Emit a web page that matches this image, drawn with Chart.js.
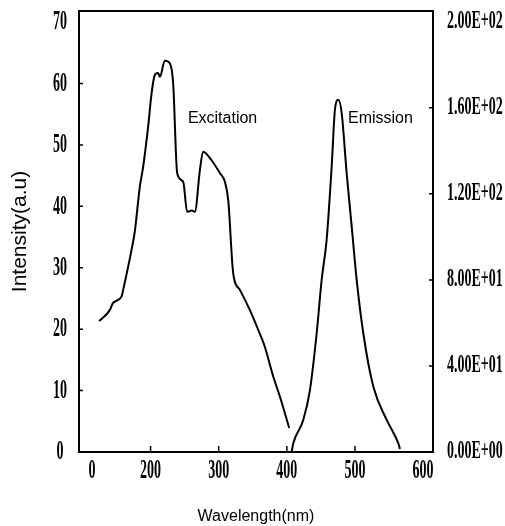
<!DOCTYPE html>
<html>
<head>
<meta charset="utf-8">
<script src="https://cdn.jsdelivr.net/npm/chart.js@4"></script>
<style>
html,body{margin:0;padding:0;background:#fff;}
#wrap{width:505px;height:526px;position:relative;}
</style>
</head>
<body>
<div id="wrap"><canvas id="c" width="505" height="526"></canvas></div>
<script>
// ---- data ----
const excitationWavelength = [124.5,140.2,145.1,157.4,159.8,172.1,176.9,184.3,189.1,196.5,201.5,206.3,211.2,213.7,221,228.3,233.2,239.1,247.9,253.7,260.2,265.1,272.4,277.2,289.6,301.8,309.1,314,321.3,331.1,345.8,358,367.8,380,389.9,403.5];
const excitationIntensity  = [21.3,23.1,24.3,25.3,26.4,32.9,35.9,43.2,46.4,53.0,58.4,61.4,61.7,61.1,63.7,63.3,60.0,45.4,44.0,39.1,39.3,39.1,45.9,48.9,47.5,45.4,44.0,41.0,29.1,26.4,23.1,19.9,17.1,12.3,9.0,3.9];
const emissionWavelength = [407,409.4,424.1,433.9,443.8,451.1,458.4,465.8,470.6,475.5,480.5,487.8,495.2,502.5,512.2,526.9,546.6,563.6,566];
const emissionIntensity  = [0,4.0,14.9,28.8,55.2,80,98.6,132.7,159.1,163.7,157.5,129.6,104.8,80,55.2,30.4,14.9,4.0,1.4];

const xTickValues = [114,200,300,400,500,600];
const xTickLabels = ['0','200','300','400','500','600'];
const xInnerTicks = [200,300,400,500];
const yTickValues = [0,10,20,30,40,50,60,70];
const yTickLabels = ['0','10','20','30','40','50','60','70'];
const y2TickValues = [0,40,80,120,160,200];
const y2TickLabels = ['0.00E+00','4.00E+01','8.00E+01','1.20E+02','1.60E+02','2.00E+02'];

const annotationTexts = ['Excitation','Emission'];
const annotationX = [254.8,489.7];
const annotationY = [53.6,53.6];

const excitationPoints = excitationWavelength.map((w,i)=>({x:w,y:excitationIntensity[i]}));
const emissionPoints = emissionWavelength.map((w,i)=>({x:w,y:emissionIntensity[i]}));

function drawScaled(ctx, text, cx, cy, sx){
  ctx.save();
  ctx.translate(cx, cy);
  ctx.scale(sx, 1);
  ctx.fillText(text, 0, 0);
  ctx.restore();
}

const customAxes = {
  id: 'customAxes',
  afterDraw(chart){
    const ctx = chart.ctx;
    const xs = chart.scales.x, ys = chart.scales.y, y2s = chart.scales.y2;
    const a = chart.chartArea;
    ctx.save();
    ctx.strokeStyle = '#000';
    ctx.lineWidth = 2;
    // top border
    ctx.beginPath();
    ctx.moveTo(a.left, a.top);
    ctx.lineTo(a.right, a.top);
    ctx.stroke();
    // inward tick marks
    ctx.lineWidth = 1.5;
    ctx.beginPath();
    yTickValues.slice(1, -1).forEach(v => {
      const p = ys.getPixelForValue(v);
      ctx.moveTo(a.left, p); ctx.lineTo(a.left + 4, p);
    });
    y2TickValues.slice(1, -1).forEach(v => {
      const p = y2s.getPixelForValue(v);
      ctx.moveTo(a.right, p); ctx.lineTo(a.right - 4, p);
    });
    xInnerTicks.forEach(v => {
      const p = xs.getPixelForValue(v);
      ctx.moveTo(p, a.bottom); ctx.lineTo(p, a.bottom - 6);
    });
    ctx.stroke();

    // tick labels (condensed bold serif)
    ctx.fillStyle = '#000';
    ctx.textBaseline = 'middle';
    ctx.textAlign = 'center';
    ctx.font = 'bold 28px "Liberation Serif"';
    yTickValues.forEach((v,i) => {
      drawScaled(ctx, yTickLabels[i], a.left - 19, ys.getPixelForValue(v), 0.5);
    });
    xTickValues.forEach((v,i) => {
      drawScaled(ctx, xTickLabels[i], xs.getPixelForValue(v), a.bottom + 19, 0.5);
    });
    ctx.textAlign = 'left';
    ctx.font = 'bold 25px "Liberation Serif"';
    y2TickValues.forEach((v,i) => {
      drawScaled(ctx, y2TickLabels[i], a.right + 14, y2s.getPixelForValue(v), 0.56);
    });

    // curve labels
    ctx.textBaseline = 'alphabetic';
    ctx.textAlign = 'left';
    ctx.font = '16px "Liberation Sans"';
    annotationTexts.forEach((t,i) => {
      ctx.fillText(t, xs.getPixelForValue(annotationX[i]), ys.getPixelForValue(annotationY[i]));
    });
    ctx.restore();
  }
};

new Chart(document.getElementById('c'), {
  type: 'line',
  data: {
    datasets: [
      { label: 'Excitation', data: excitationPoints, yAxisID: 'y', borderColor: '#000', borderWidth: 2, pointRadius: 0, fill: false, cubicInterpolationMode: 'monotone' },
      { label: 'Emission', data: emissionPoints, yAxisID: 'y2', borderColor: '#000', borderWidth: 2, pointRadius: 0, fill: false, cubicInterpolationMode: 'monotone' }
    ]
  },
  options: {
    responsive: false,
    animation: false,
    layout: { padding: { left: 0, right: 0, top: 11, bottom: 0 } },
    plugins: { legend: { display: false }, tooltip: { enabled: false } },
    scales: {
      x: {
        type: 'linear', min: 95, max: 614.5,
        grid: { display: false, drawTicks: false },
        border: { display: true, color: '#000', width: 2 },
        ticks: { display: false },
        title: { display: true, text: 'Wavelength(nm)', color: '#000', font: { family: 'Liberation Sans', size: 16 }, padding: { top: 0, bottom: 0 } },
        afterFit: s => { s.height = 74; }
      },
      y: {
        type: 'linear', position: 'left', min: 0, max: 71.8,
        grid: { display: false, drawTicks: false },
        border: { display: true, color: '#000', width: 2 },
        ticks: { display: false },
        title: { display: true, text: 'Intensity(a.u)', color: '#000', font: { family: 'Liberation Sans', size: 21 }, padding: { top: 8, bottom: 0 } },
        afterFit: s => { s.width = 79; }
      },
      y2: {
        type: 'linear', position: 'right', min: 0, max: 205,
        grid: { display: false, drawTicks: false },
        border: { display: true, color: '#000', width: 2 },
        ticks: { display: false },
        afterFit: s => { s.width = 72; }
      }
    }
  },
  plugins: [customAxes]
});
</script>
</body>
</html>
